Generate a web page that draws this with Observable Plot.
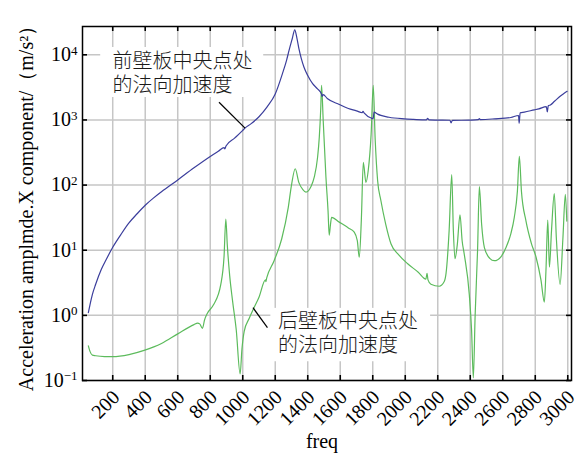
<!DOCTYPE html>
<html>
<head>
<meta charset="utf-8">
<script src="https://cdn.jsdelivr.net/npm/d3@7"></script>
<script src="https://cdn.jsdelivr.net/npm/@observablehq/plot@0.6"></script>
<style>
  html, body { margin: 0; padding: 0; background: #fff; }
  #chart svg { display: block; }
</style>
</head>
<body>
<div id="chart"></div>
<script>
// Normal acceleration at the centre of the front panel (Hz, m/s²)
const frontFreq = [50, 60, 75, 95, 130, 160, 200, 250, 300, 350, 400, 450, 500, 600, 700, 800, 850, 885, 890, 897, 950, 1000, 1014, 1050, 1100, 1150, 1200, 1244, 1270, 1285, 1305, 1320, 1333, 1346, 1360, 1377, 1400, 1430, 1460, 1485, 1488, 1495, 1520, 1594, 1650, 1700, 1735, 1740, 1748, 1790, 1803, 1808, 1830, 1850, 1900, 1994, 2050, 2130, 2138, 2145, 2200, 2275, 2282, 2290, 2400, 2450, 2456, 2462, 2550, 2650, 2697, 2701, 2707, 2733, 2794, 2822, 2868, 2874, 2880, 2893, 2920, 2959, 2980, 2996];
const frontAcc = [1.1, 1.45, 2.1, 3.0, 5.1, 7.2, 11.1, 17.4, 26.3, 36.3, 49, 63, 79, 120, 184, 275, 331, 376, 359, 398, 525, 690, 750, 870, 1120, 1585, 2500, 5100, 8300, 11700, 17800, 24200, 18200, 12300, 8800, 6450, 4800, 3600, 3000, 2500, 2300, 2450, 2140, 1730, 1500, 1380, 1290, 1350, 1270, 1070, 1050, 1320, 1230, 1175, 1100, 1040, 1020, 1000, 1060, 1000, 995, 990, 900, 985, 995, 1010, 1050, 1015, 1040, 1090, 1170, 890, 1290, 1320, 1430, 1480, 1600, 1330, 1650, 1700, 1950, 2370, 2600, 2750];

// Normal acceleration at the centre of the rear panel (Hz, m/s²)
const rearFreq = [50, 60, 75, 95, 150, 200, 300, 393, 500, 600, 700, 722, 735, 752, 765, 780, 820, 865, 885, 896, 905, 920, 937, 960, 984, 995, 1009, 1040, 1070, 1100, 1140, 1142, 1148, 1193, 1240, 1280, 1300, 1323, 1345, 1370, 1389, 1420, 1440, 1460, 1471, 1480, 1485, 1495, 1505, 1512, 1525, 1532, 1540, 1547, 1594, 1650, 1686, 1705, 1717, 1730, 1742, 1758, 1772, 1790, 1803, 1815, 1830, 1850, 1880, 1912, 1960, 2015, 2080, 2127, 2134, 2140, 2158, 2209, 2240, 2251, 2270, 2286, 2296, 2306, 2320, 2337, 2350, 2363, 2394, 2408, 2419, 2430, 2445, 2456, 2470, 2487, 2520, 2548, 2590, 2620, 2650, 2671, 2690, 2702, 2715, 2743, 2775, 2805, 2835, 2856, 2866, 2877, 2887, 2900, 2917, 2930, 2953, 2970, 2985, 2994];
const rearAcc = [0.34, 0.28, 0.245, 0.24, 0.233, 0.232, 0.25, 0.29, 0.37, 0.52, 0.72, 0.76, 0.74, 0.63, 0.85, 1.05, 1.45, 3.0, 8, 30, 12, 4, 1.7, 0.6, 0.126, 0.3, 0.57, 0.9, 1.32, 1.9, 3.5, 3.3, 3.8, 6.9, 15, 45, 100, 178, 110, 85, 78, 95, 132, 260, 540, 1500, 3400, 1000, 300, 132, 40, 17, 25, 32, 27, 22, 19, 14, 7.8, 30, 224, 110, 166, 600, 3400, 500, 117, 58, 25, 12.6, 8.5, 6.2, 4.6, 3.6, 4.4, 3.5, 3.0, 2.8, 3.3, 4.4, 20, 145, 20, 7.4, 12, 35, 14, 8.7, 2.1, 0.6, 0.11, 1.0, 10, 95, 25, 11, 7.5, 6.9, 8, 11, 18, 32, 80, 275, 80, 28, 13, 7.8, 3.5, 1.6, 5, 29, 5.5, 20, 74, 15, 3.0, 15, 72, 28];

// Axis ticks
const xTicks = [200, 400, 600, 800, 1000, 1200, 1400, 1600, 1800, 2000, 2200, 2400, 2600, 2800, 3000];
const yTicks = [0.1, 1, 10, 100, 1000, 10000];

// Callout labels (two lines each), with leader lines and white backing boxes
const noteLine1 = ["前壁板中央点处", "后壁板中央点处"];
const noteLine2 = ["的法向加速度", "的法向加速度"];
const noteAt = [[198, 5100], [1217, 0.529]];
const noteBox = [[126, 1129, 2210, 12950], [1173, 2156, 0.194, 1.28]];
const noteLeader = [[854, 1870, 1014, 750], [1063, 1.31, 1152, 0.647]];

const front = frontFreq.map((f, i) => ({freq: f, acc: frontAcc[i]}));
const rear = rearFreq.map((f, i) => ({freq: f, acc: rearAcc[i]}));
const notes = noteLine1.map((t, i) => ({
  line1: t, line2: noteLine2[i],
  x: noteAt[i][0], y: noteAt[i][1],
  bx1: noteBox[i][0], bx2: noteBox[i][1], by1: noteBox[i][2], by2: noteBox[i][3],
  lx1: noteLeader[i][0], ly1: noteLeader[i][1], lx2: noteLeader[i][2], ly2: noteLeader[i][3]
}));

const serif = "'Liberation Serif', 'Times New Roman', serif";
const cjk = "'Noto Sans CJK SC', sans-serif";
const gridColor = "#c6c6c6";
const noteStyle = {x: "x", y: "y", textAnchor: "start", lineAnchor: "middle", fontSize: 20,
  fontFamily: cjk, fontWeight: 300, fill: "#1a1a1a", letterSpacing: "1px"};

const chart = Plot.plot({
  width: 585,
  height: 456,
  marginLeft: 82,
  marginRight: 14,
  marginTop: 26,
  marginBottom: 76,
  style: {fontFamily: serif, fontSize: "19px", color: "black", background: "white", overflow: "visible"},
  x: {domain: [14, 3023], axis: null},
  y: {type: "log", domain: [0.1, 27200]},
  marks: [
    Plot.gridX(xTicks, {stroke: gridColor, strokeOpacity: 1, strokeWidth: 1.5}),
    Plot.gridY(yTicks, {stroke: gridColor, strokeOpacity: 1, strokeWidth: 1.5}),
    Plot.rect(notes, {x1: "bx1", x2: "bx2", y1: "by1", y2: "by2", fill: "white"}),
    Plot.line(rear, {x: "freq", y: "acc", stroke: "#5cbb5c", strokeWidth: 1.2, curve: "monotone-x"}),
    Plot.line(front, {x: "freq", y: "acc", stroke: "#3b3e9c", strokeWidth: 1.2, curve: "monotone-x"}),
    Plot.link(notes, {x1: "lx1", y1: "ly1", x2: "lx2", y2: "ly2", stroke: "black", strokeWidth: 1.2}),
    Plot.text(notes, {...noteStyle, text: "line1", dy: -11.8}),
    Plot.text(notes, {...noteStyle, text: "line2", dy: 11.8}),
    // inward ticks on all four sides
    Plot.tickX(xTicks, {x: d => d, insetTop: 349, stroke: "black", strokeWidth: 1.6}),
    Plot.tickX(xTicks, {x: d => d, insetBottom: 349, stroke: "black", strokeWidth: 1.6}),
    Plot.tickY(yTicks, {y: d => d, insetRight: 484, stroke: "black", strokeWidth: 1.6}),
    Plot.tickY(yTicks, {y: d => d, insetLeft: 484, stroke: "black", strokeWidth: 1.6}),
    Plot.frame({stroke: "black", strokeWidth: 1.5}),
    // rotated frequency tick labels
    Plot.text(xTicks, {x: d => d, text: d => String(d), frameAnchor: "bottom", rotate: -45,
      textAnchor: "end", lineAnchor: "bottom", dx: 8, dy: 18, fontSize: 20}),
    Plot.text(["freq"], {text: d => d, frameAnchor: "bottom", lineAnchor: "bottom", dx: -5, dy: 67, fontSize: 20}),
    Plot.axisY(yTicks, {tickSize: 0, tickPadding: 5, fontSize: 20,
      tickFormat: d => `10^${Math.round(Math.log10(d))}`,
      label: "Acceleration amplmde.X component/（m/s²）", labelAnchor: "center", labelArrow: "none", labelOffset: 64})
  ]
});

// Render the decade exponents as raised superscripts
chart.querySelectorAll('g[aria-label="y-axis tick label"] text').forEach(t => {
  const [base, exp] = t.textContent.split("^");
  t.textContent = base;
  const sup = document.createElementNS("http://www.w3.org/2000/svg", "tspan");
  sup.setAttribute("dy", "-0.5em");
  sup.setAttribute("font-size", "13px");
  sup.textContent = exp.replace("-", "−");
  t.appendChild(sup);
});

document.getElementById("chart").appendChild(chart);
</script>
</body>
</html>
